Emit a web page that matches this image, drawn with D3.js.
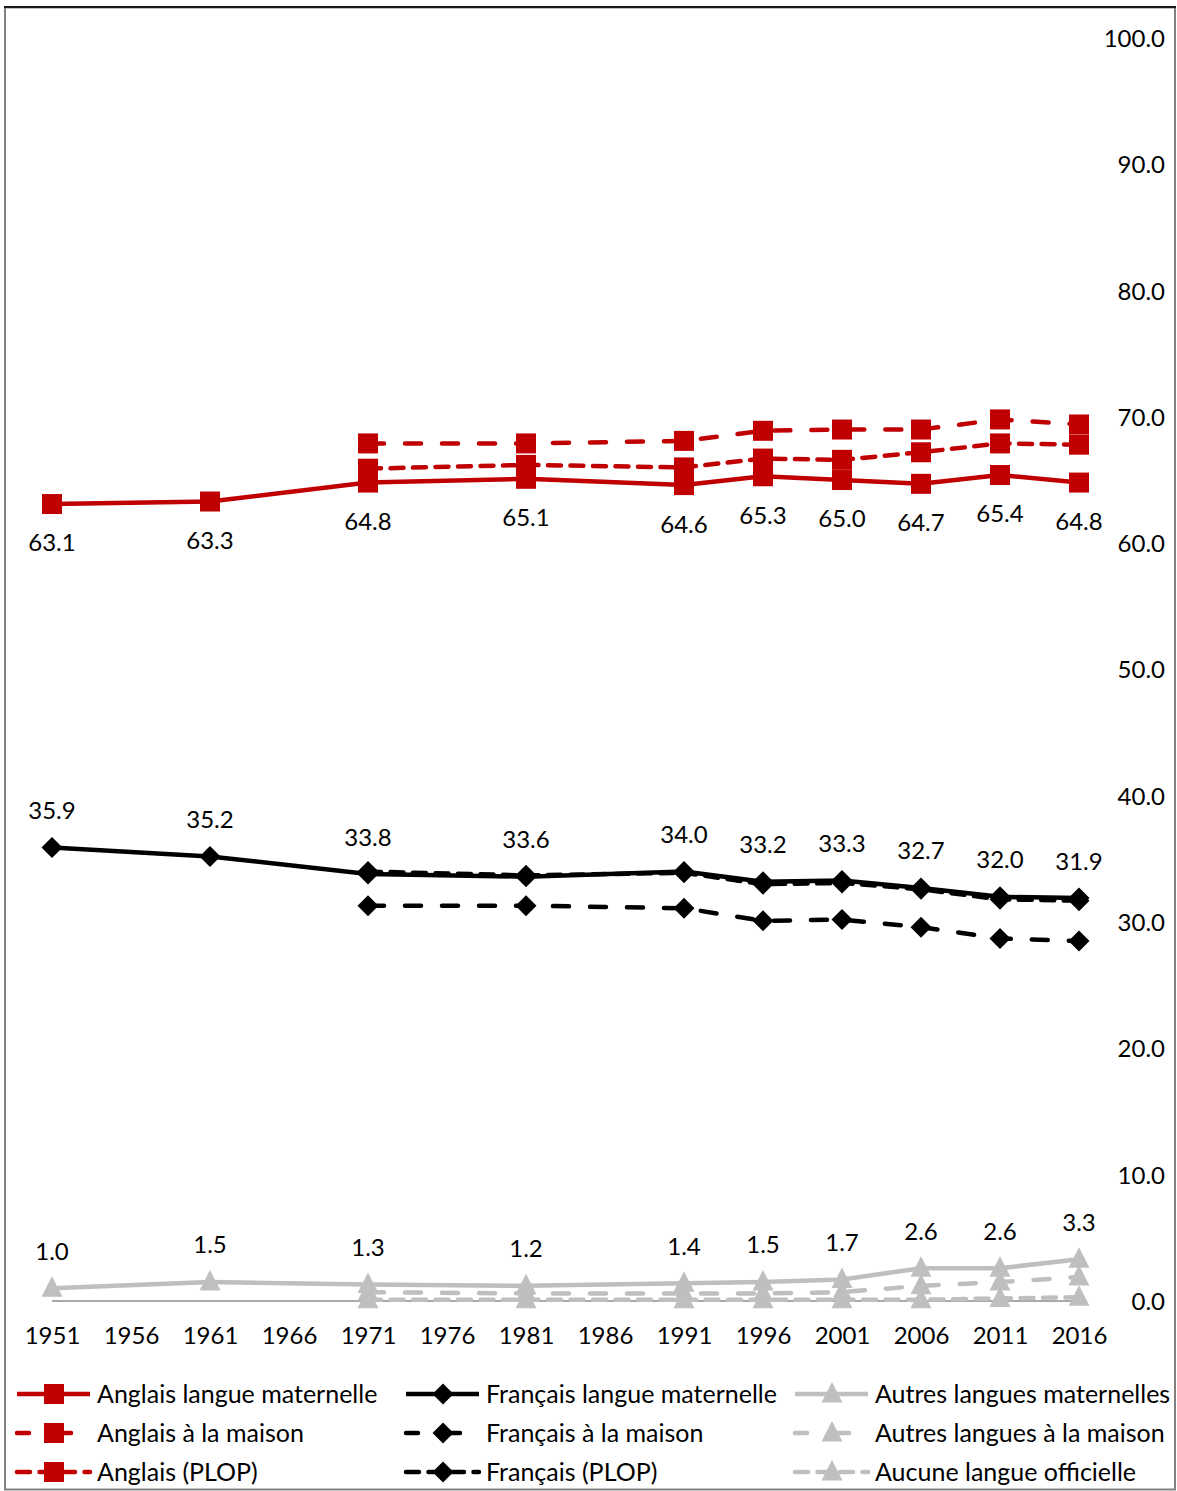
<!DOCTYPE html>
<html>
<head>
<meta charset="utf-8">
<script src="https://cdn.jsdelivr.net/npm/d3@7"></script>
<style>
  html, body { margin: 0; padding: 0; background: #fff; }
  svg text { font-family: Lato, "Open Sans", sans-serif; fill: #000; }
</style>
</head>
<body>
<svg id="chart" width="1177" height="1491"></svg>
<script>
// Census years shown on the category axis
const tickYears = ["1951","1956","1961","1966","1971","1976","1981","1986","1991","1996","2001","2006","2011","2016"];
// Years with observations
const censusYears = ["1951","1961","1971","1981","1991","1996","2001","2006","2011","2016"];
// Value axis labels
const yTicks = [0,10,20,30,40,50,60,70,80,90,100];

// Percentages by language indicator
const anglaisLM      = [63.1, 63.3, 64.8, 65.1, 64.6, 65.3, 65.0, 64.7, 65.4, 64.8];
const anglaisMaison  = [null, null, 67.9, 67.9, 68.1, 68.9, 69.0, 69.0, 69.8, 69.4];
const anglaisPLOP    = [null, null, 65.9, 66.2, 66.0, 66.7, 66.6, 67.2, 67.9, 67.8];
const francaisLM     = [35.9, 35.2, 33.8, 33.6, 34.0, 33.2, 33.3, 32.7, 32.0, 31.9];
const francaisMaison = [null, null, 31.3, 31.3, 31.1, 30.1, 30.2, 29.6, 28.7, 28.5];
const francaisPLOP   = [null, null, 34.0, 33.7, 33.9, 33.0, 33.1, 32.6, 31.8, 31.7];
const autresLM       = [1.0, 1.5, 1.3, 1.2, 1.4, 1.5, 1.7, 2.6, 2.6, 3.3];
const autresMaison   = [null, null, 0.7, 0.6, 0.6, 0.6, 0.7, 1.2, 1.5, 1.9];
const aucuneOff      = [null, null, 0.1, 0.1, 0.1, 0.1, 0.1, 0.1, 0.2, 0.3];

const RED = "#c00000", BLACK = "#000000", GREY = "#bfbfbf";
const DASH = "16,21", PLOP = "13,9.5";
const LABEL_SIZE = 24, LEGEND_SIZE = 25;

const series = [
  { name: "Autres langues maternelles",   values: autresLM,       color: GREY,  dash: null, marker: "triangle", label: "above" },
  { name: "Autres langues à la maison",   values: autresMaison,   color: GREY,  dash: DASH, marker: "triangle" },
  { name: "Aucune langue officielle",     values: aucuneOff,      color: GREY,  dash: PLOP, marker: "triangle" },
  { name: "Français langue maternelle",   values: francaisLM,     color: BLACK, dash: null, marker: "diamond", label: "above" },
  { name: "Français à la maison",         values: francaisMaison, color: BLACK, dash: DASH, marker: "diamond" },
  { name: "Français (PLOP)",              values: francaisPLOP,   color: BLACK, dash: PLOP, marker: "diamond" },
  { name: "Anglais langue maternelle",    values: anglaisLM,      color: RED,   dash: null, marker: "square", label: "below" },
  { name: "Anglais à la maison",          values: anglaisMaison,  color: RED,   dash: DASH, marker: "square" },
  { name: "Anglais (PLOP)",               values: anglaisPLOP,    color: RED,   dash: PLOP, marker: "square" }
];

const legendOrder = [
  ["Anglais langue maternelle", "Français langue maternelle", "Autres langues maternelles"],
  ["Anglais à la maison", "Français à la maison", "Autres langues à la maison"],
  ["Anglais (PLOP)", "Français (PLOP)", "Aucune langue officielle"]
];

const svg = d3.select("#chart");

// Outer frame
svg.append("rect").attr("x", 5).attr("y", 7.5).attr("width", 1170).attr("height", 1482)
  .attr("fill", "none").attr("stroke", "#808080").attr("stroke-width", 2);
svg.append("line").attr("x1", 4).attr("x2", 1176).attr("y1", 7).attr("y2", 7)
  .attr("stroke", "#1a1a1a").attr("stroke-width", 2);

const x = d3.scalePoint().domain(tickYears).range([52, 1079]);
const y = d3.scaleLinear().domain([0, 100]).range([1301, 38]);

// Baseline at zero
svg.append("line")
  .attr("x1", x("1951")).attr("x2", x("2016"))
  .attr("y1", y(0)).attr("y2", y(0))
  .attr("stroke", "#8c8c8c").attr("stroke-width", 1.3);

// Right value axis
const yAxis = d3.axisRight(y).tickValues(yTicks).tickFormat(d3.format(".1f")).tickSize(0).tickPadding(0);
const gy = svg.append("g").attr("transform", "translate(1165,0)").call(yAxis);
gy.select(".domain").remove();
gy.selectAll("text").attr("text-anchor", "end").attr("font-size", LABEL_SIZE).attr("dy", "0.35em")
  .style("font-family", "Lato, sans-serif").attr("fill", "#000");

// Category axis
const xAxis = d3.axisBottom(x).tickSize(0).tickPadding(0);
const gx = svg.append("g").attr("transform", `translate(0,${y(0) + 35})`).call(xAxis);
gx.select(".domain").remove();
gx.selectAll("text").attr("font-size", LABEL_SIZE).attr("dy", "0.35em")
  .style("font-family", "Lato, sans-serif").attr("fill", "#000");

function markerPath(type) {
  if (type === "square") return "M-10,-10H10V10H-10Z";
  if (type === "diamond") return "M0,-10.5L10.5,0L0,10.5L-10.5,0Z";
  return "M0,-12L10.5,8.5H-10.5Z";
}

const line = d3.line()
  .defined(d => d.v !== null)
  .x(d => x(d.year))
  .y(d => y(d.v));

const plot = svg.append("g");
series.forEach(s => {
  const pts = censusYears.map((yr, i) => ({ year: yr, v: s.values[i] }));
  const g = plot.append("g");
  g.append("path").datum(pts)
    .attr("d", line)
    .attr("fill", "none")
    .attr("stroke", s.color)
    .attr("stroke-width", 4.5)
    .attr("stroke-linecap", s.dash ? "round" : "butt")
    .attr("stroke-linejoin", "round")
    .attr("stroke-dasharray", s.dash);
  g.selectAll("path.mk").data(pts.filter(d => d.v !== null)).enter().append("path")
    .attr("class", "mk")
    .attr("d", markerPath(s.marker))
    .attr("transform", d => `translate(${x(d.year)},${y(d.v)})`)
    .attr("fill", s.color);
  if (s.label) {
    g.selectAll("text.lbl").data(pts).enter().append("text")
      .attr("class", "lbl")
      .attr("x", d => x(d.year))
      .attr("y", d => y(d.v) + (s.label === "below" ? 39 : -37))
      .attr("dy", "0.35em")
      .attr("text-anchor", "middle")
      .attr("font-size", LABEL_SIZE)
      .text(d => d.v.toFixed(1));
  }
});

// Legend
const colX = [17, 406, 795];
const rowY = [1394, 1433, 1472];
legendOrder.forEach((row, ri) => {
  row.forEach((name, ci) => {
    const s = series.find(t => t.name === name);
    const g = svg.append("g").attr("transform", `translate(${colX[ci]},${rowY[ri]})`);
    const len = s.dash === DASH ? 62 : 73;
    g.append("line").attr("x1", 0).attr("x2", len).attr("y1", 0).attr("y2", 0)
      .attr("stroke", s.color).attr("stroke-width", 4.5)
      .attr("stroke-linecap", s.dash ? "round" : "butt")
      .attr("stroke-dasharray", s.dash === DASH ? "12,30" : s.dash);
    g.append("path").attr("d", markerPath(s.marker))
      .attr("transform", "translate(37,0)")
      .attr("fill", s.color);
    g.append("text").attr("x", 80).attr("y", 0).attr("dy", "0.35em")
      .attr("font-size", LEGEND_SIZE).text(name);
  });
});
</script>
</body>
</html>
